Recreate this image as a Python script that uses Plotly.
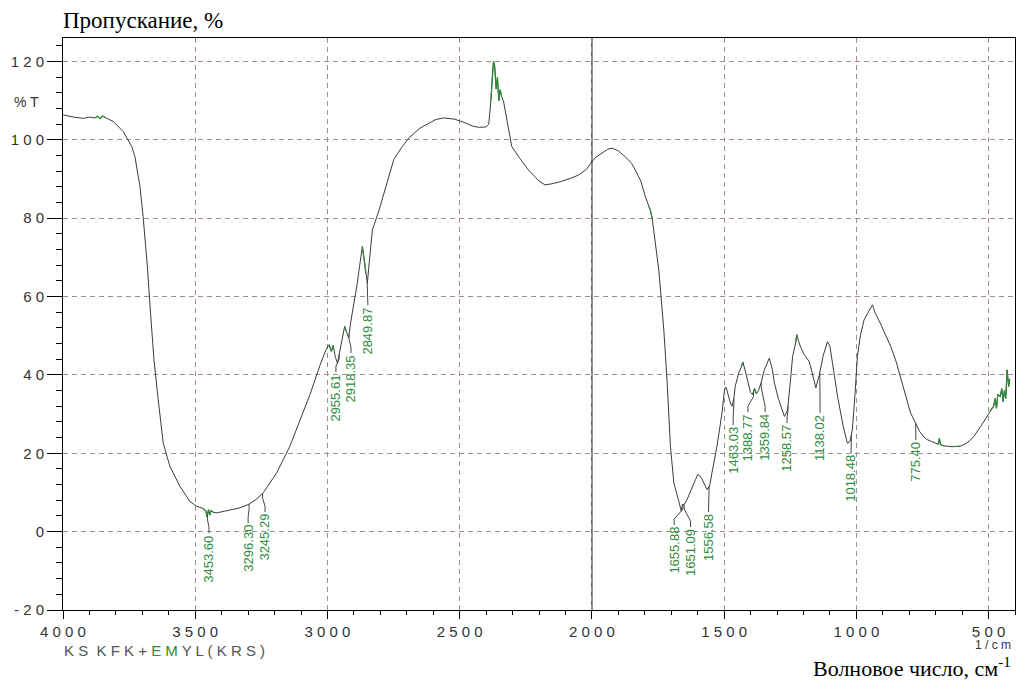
import numpy as np
import plotly.graph_objects as go

# ---------------- data ----------------
wavenumber = [
    4000, 3960, 3923, 3900, 3880, 3870, 3860, 3850, 3840, 3810, 3772, 3740, 3728,
    3709, 3697, 3681, 3669, 3656, 3640, 3621, 3596, 3558, 3520, 3495, 3470, 3460,
    3455, 3450, 3445, 3440, 3430, 3419, 3390, 3356, 3330, 3300, 3270, 3243, 3220,
    3192, 3142, 3105, 3066, 3028, 3005, 2994, 2985, 2978, 2970, 2962, 2955, 2945,
    2935, 2928, 2920, 2912, 2900, 2888, 2878, 2868, 2862, 2855, 2849, 2843, 2836,
    2830, 2805, 2780, 2749, 2720, 2692, 2650, 2617, 2590, 2560, 2520, 2485, 2450,
    2428, 2400, 2390, 2382, 2376, 2372, 2368, 2362, 2357, 2352, 2347, 2341, 2334,
    2322, 2303, 2277, 2240, 2200, 2177, 2150, 2115, 2080, 2051, 2020, 2005, 1985,
    1963, 1940, 1924, 1900, 1874, 1850, 1836, 1815, 1798, 1785, 1779, 1772, 1766,
    1747, 1728, 1716, 1703, 1690, 1671, 1662, 1658, 1650, 1640, 1625, 1608, 1600,
    1596, 1585, 1577, 1565, 1560, 1553, 1546, 1527, 1508, 1498, 1492, 1483, 1475,
    1470, 1463, 1458, 1445, 1435, 1429, 1420, 1410, 1400, 1392, 1385, 1378, 1370,
    1360, 1348, 1329, 1318, 1310, 1295, 1272, 1260, 1250, 1241, 1230, 1225, 1218,
    1210, 1197, 1178, 1165, 1153, 1140, 1125, 1109, 1100, 1090, 1071, 1050, 1034,
    1024, 1015, 1005, 996, 985, 971, 955, 939, 930, 921, 908, 895, 880, 870, 850,
    833, 815, 795, 776, 760, 745, 732, 715, 701, 690, 686, 682, 670, 640, 607, 585,
    570, 556, 530, 506, 495, 481, 475, 470, 465, 456, 450, 445, 440, 435, 430, 426,
    424, 420,
]
transmittance = [
    106.4, 105.8, 105.5, 105.8, 105.6, 106.0, 105.4, 106.1, 105.7, 104.7, 102.1, 98.3, 95.7,
    88.1, 80.4, 67.7, 55.8, 43.9, 33.7, 22.6, 16.7, 11.6, 7.7, 6.5, 5.9, 5.2,
    3.8, 5.6, 4.2, 5.4, 4.9, 4.8, 5.2, 5.6, 6.1, 6.9, 8.2, 9.9, 12.2,
    15.0, 21.8, 28.0, 35.0, 42.5, 46.5, 47.7, 46.0, 47.5, 44.5, 43.0, 45.5, 48.5,
    52.4, 51.0, 49.5, 53.5, 58.0, 63.0, 68.0, 72.8, 70.0, 66.0, 63.4, 68.0, 73.0,
    77.0, 82.0, 88.0, 95.0, 98.0, 100.5, 103.0, 104.3, 105.2, 105.6, 105.3, 104.5, 103.5,
    103.2, 103.3, 104.0, 110.0, 117.0, 120.0, 119.0, 113.0, 116.0, 110.0, 112.8, 111.0, 109.8,
    105.0, 98.3, 95.7, 92.3, 89.5, 88.5, 88.8, 89.4, 90.2, 91.0, 92.5, 94.0, 95.6,
    96.6, 97.6, 97.9, 97.2, 95.7, 94.0, 92.3, 89.5, 85.5, 83.0, 82.1, 80.0, 77.0,
    66.8, 51.5, 38.8, 21.8, 12.4, 7.7, 5.2, 6.9, 7.0, 8.2, 10.8, 13.3, 14.6,
    14.5, 13.6, 12.4, 10.8, 11.1, 12.2, 15.0, 21.8, 30.3, 36.5, 36.8, 34.5, 32.5,
    32.0, 34.0, 37.1, 40.5, 42.0, 43.3, 41.0, 38.0, 35.5, 35.0, 36.5, 35.2, 36.0,
    38.0, 41.3, 44.3, 41.5, 38.0, 34.0, 29.4, 31.0, 38.0, 44.7, 48.0, 50.3, 48.5,
    47.0, 45.2, 43.4, 40.0, 36.7, 40.0, 45.0, 48.5, 47.3, 43.0, 34.5, 27.0, 22.6,
    23.0, 26.0, 35.0, 44.7, 50.0, 54.0, 56.0, 57.9, 56.0, 54.9, 53.0, 51.0, 49.0, 47.3, 43.5,
    39.6, 35.0, 30.3, 27.7, 25.5, 24.2, 23.5, 23.0, 22.6, 22.3, 23.8, 22.2, 21.9, 21.7, 21.8, 22.5,
    23.3, 24.3, 26.8, 29.4, 30.8, 32.0, 34.0, 31.5, 35.0, 34.5, 36.5, 33.2, 36.0, 34.0, 41.3, 38.0,
    37.0, 39.0,
]

# peak labels
peak_wn = [3453.60, 3296.30, 3245.29, 2955.61, 2918.35, 2849.87, 1655.88, 1651.09,
           1556.58, 1463.03, 1388.77, 1359.84, 1258.57, 1138.02, 1018.48, 775.40]
peak_text = [f"{v:.2f}" for v in peak_wn]

# label placement (text centre wavenumber, text top in %T) - layout only
label_x = [3448, 3300, 3236, 2968, 2911, 2847, 1689, 1627,
           1559, 1466, 1410, 1345, 1262, 1137, 1020, 775]
label_top = [-0.4, 2.2, 5.0, 40.7, 45.6, 57.8, 1.7, 1.2,
             5.0, 27.2, 30.5, 30.5, 27.7, 30.3, 20.0, 23.4]

x_ticks = [4000, 3500, 3000, 2500, 2000, 1500, 1000, 500]
y_ticks = [-20, 0, 20, 40, 60, 80, 100, 120]

# windows drawn in green (noisy parts of the recorded trace)
green_windows = [(3885, 3838), (3470, 3430), (2996, 2976), (2940, 2925), (2872, 2855),
                 (2385, 2335), (1785, 1772), (1565, 1555), (1500, 1490), (1440, 1425),
                 (1395, 1375), (1230, 1220), (945, 935), (780, 772), (690, 670),
                 (640, 600), (500, 420)]

# ---------------- figure ----------------
wn = np.array(wavenumber, dtype=float)
tr = np.array(transmittance, dtype=float)

CURVE = "#3c3c3c"
GREEN = "#2e8b3a"
GRID = "#a08e86"

fig = go.Figure()
fig.add_trace(go.Scatter(x=wn, y=tr, mode="lines",
                         line=dict(color=CURVE, width=1), hoverinfo="skip"))

for hi, lo in green_windows:
    m = (wn <= hi) & (wn >= lo)
    if m.sum() >= 2:
        fig.add_trace(go.Scatter(x=wn[m], y=tr[m], mode="lines",
                                 line=dict(color=GREEN, width=1.2), hoverinfo="skip"))

# connectors
order = np.argsort(wn)
cx, cy = [], []
for p, lx, lt in zip(peak_wn, label_x, label_top):
    yc = float(np.interp(p, wn[order], tr[order]))
    cx += [p, p, lx, lx, None]
    cy += [yc, yc - 1.2, lt + 1.5, lt, None]
fig.add_trace(go.Scatter(x=cx, y=cy, mode="lines",
                         line=dict(color="#444444", width=1), hoverinfo="skip"))

for txt, lx, lt in zip(peak_text, label_x, label_top):
    fig.add_annotation(x=lx, y=lt, xref="x", yref="y", text=txt, showarrow=False,
                       textangle=-90, xanchor="center", yanchor="top",
                       font=dict(family="Liberation Sans, Arial", size=13, color=GREEN))

# solid vertical line at 2000
fig.add_shape(type="line", x0=2000, x1=2000, y0=0, y1=1, xref="x", yref="paper",
              line=dict(color="#222222", width=1.2), layer="between")

def spaced(v):
    return " ".join(str(v))

fig.update_xaxes(
    range=[4000, 400], showline=True, linecolor="black", linewidth=1, mirror=True,
    tickmode="array", tickvals=x_ticks, ticktext=[spaced(v) for v in x_ticks],
    ticks="outside", ticklen=8, tickcolor="black", tickwidth=1,
    tickfont=dict(family="Liberation Sans, Arial", size=15, color="#333333"),
    showgrid=True, gridcolor=GRID, gridwidth=1, griddash="5px,4px", zeroline=False,
    minor=dict(tickmode="linear", tick0=0, dtick=100, ticks="outside", ticklen=4,
               tickcolor="black", showgrid=False),
)
fig.update_yaxes(
    range=[-20, 126], showline=True, linecolor="black", linewidth=1, mirror=True,
    tickmode="array", tickvals=y_ticks, ticktext=[spaced(v) for v in y_ticks],
    ticks="outside", ticklen=15, tickcolor="black", tickwidth=1,
    tickfont=dict(family="Liberation Sans, Arial", size=15, color="#333333"),
    showgrid=True, gridcolor=GRID, gridwidth=1, griddash="5px,4px", zeroline=False,
    minor=dict(tickmode="linear", tick0=0, dtick=4, ticks="outside", ticklen=6,
               tickcolor="black", showgrid=False),
)

W, H = 1018, 686
L, R, T, B = 63, 3, 38, 76
pw, ph = W - L - R, H - T - B
def px(xp):
    return (xp - L) / pw
def py(yp):
    return (H - B - yp) / ph

fig.add_annotation(x=px(61), y=py(21), xref="paper", yref="paper", xanchor="left",
                   yanchor="middle", showarrow=False, text="Пропускание, %",
                   font=dict(family="Liberation Serif, Times New Roman", size=23, color="black"))
fig.add_annotation(x=px(41), y=py(102), xref="paper", yref="paper", xanchor="right",
                   yanchor="middle", showarrow=False, text="% T",
                   font=dict(family="Liberation Sans, Arial", size=14, color="#333333"))
fig.add_annotation(x=px(62), y=py(650), xref="paper", yref="paper", xanchor="left",
                   yanchor="middle", showarrow=False,
                   text=("K S \u00a0K F K + <span style='color:#2e8b3a'>E M</span> Y L ( K R S )"),
                   font=dict(family="Liberation Sans, Arial", size=15, color="#555555"))
fig.add_annotation(x=px(1013), y=py(645), xref="paper", yref="paper", xanchor="right",
                   yanchor="middle", showarrow=False, text="1 / c m",
                   font=dict(family="Liberation Sans, Arial", size=12, color="#333333"))
fig.add_annotation(x=px(1013), y=py(667), xref="paper", yref="paper", xanchor="right",
                   yanchor="middle", showarrow=False, text="Волновое число, см<sup>-1</sup>",
                   font=dict(family="Liberation Serif, Times New Roman", size=22, color="black"))

fig.update_layout(width=W, height=H, margin=dict(l=L, r=R, t=T, b=B),
                  plot_bgcolor="white", paper_bgcolor="white", showlegend=False)

fig.write_html("out.html")
